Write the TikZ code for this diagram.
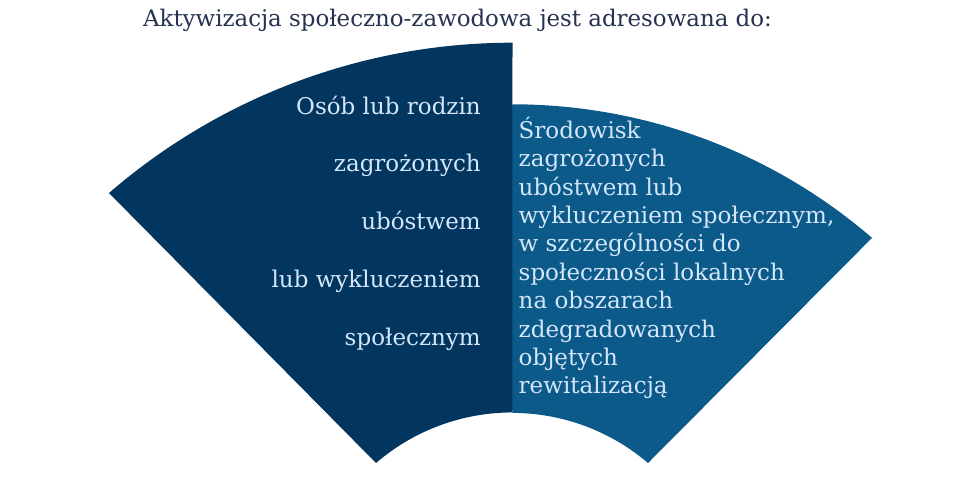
\documentclass[tikz,border=0pt]{standalone}
\usepackage{fontspec}
\setmainfont{DejaVu Serif}
\definecolor{navyL}{RGB}{3,54,94}
\definecolor{navyR}{RGB}{12,90,137}
\definecolor{txtlight}{RGB}{212,230,250}
\definecolor{titlecol}{RGB}{38,50,82}
\begin{document}
\begin{tikzpicture}[x=1pt,y=1pt,
  lefttxt/.style={anchor=base east,inner sep=0pt,text=txtlight,font=\fontsize{23}{27}\selectfont},
  righttxt/.style={anchor=base west,inner sep=0pt,text=txtlight,font=\fontsize{23}{27}\selectfont},
  titletxt/.style={anchor=base,inner sep=0pt,text=titlecol,font=\fontsize{22.9}{27}\selectfont}]
\useasboundingbox (0,0) rectangle (960,491);
\fill[white] (0,0) rectangle (960,491);
% right sector (drawn first, with a strip under the left one to hide the seam)
\fill[navyR] (512.5,386.7) arc[start angle=90,end angle=49.24,radius=550.7]
  -- (648,28) arc[start angle=49.5,end angle=90,radius=209] -- cycle;
\fill[navyR] (509,81) rectangle (513,386);
% left sector
\fill[navyL] (512.5,448.3) arc[start angle=90,end angle=130.86,radius=616.8]
  -- (376,28) arc[start angle=130.7,end angle=90,radius=209] -- cycle;
% title
\node[titletxt] (title) at (457.5,464.3) {Aktywizacja społeczno-zawodowa jest adresowana do:};
% left text
\node[lefttxt] (l1) at (481,377) {Osób lub rodzin};
\node[lefttxt] (l2) at (481,319.5) {zagrożonych};
\node[lefttxt] (l3) at (481,262) {ubóstwem};
\node[lefttxt] (l4) at (481,204) {lub wykluczeniem};
\node[lefttxt] (l5) at (481,146) {społecznym};
% right text
\node[righttxt] (r1) at (518.5,352.7) {Środowisk};
\node[righttxt] (r2) at (518.5,324.3) {zagrożonych};
\node[righttxt] (r3) at (518.5,295.9) {ubóstwem lub};
\node[righttxt] (r4) at (518.5,267.5) {wykluczeniem społecznym,};
\node[righttxt] (r5) at (518.5,239.1) {w szczególności do};
\node[righttxt] (r6) at (518.5,210.7) {społeczności lokalnych};
\node[righttxt] (r7) at (518.5,182.3) {na obszarach};
\node[righttxt] (r8) at (518.5,153.9) {zdegradowanych};
\node[righttxt] (r9) at (518.5,125.5) {objętych};
\node[righttxt] (r10) at (518.5,97.1) {rewitalizacją};
\end{tikzpicture}
\end{document}
